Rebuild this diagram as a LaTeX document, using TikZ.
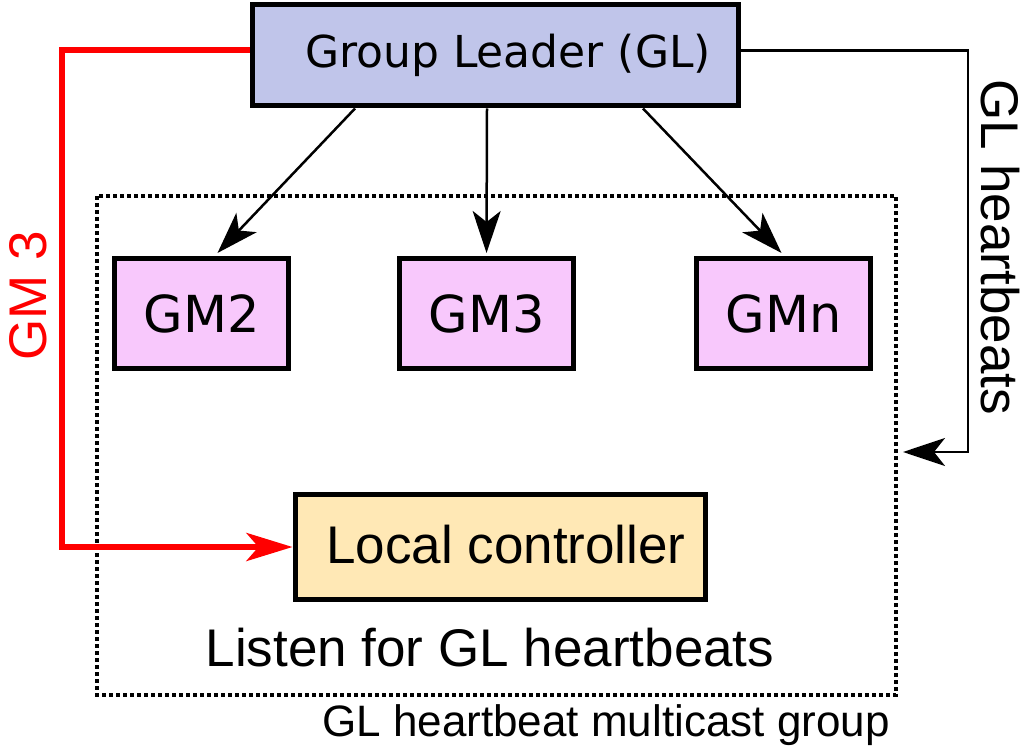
\documentclass[tikz,border=0pt]{standalone}
\usepackage{fontspec}
\setmainfont{Liberation Sans}
\newfontfamily\dejavu{DejaVu Sans}
\usetikzlibrary{arrows.meta,calc}
\definecolor{glfill}{RGB}{192,197,234}
\definecolor{gmfill}{RGB}{248,200,252}
\definecolor{lcfill}{RGB}{255,232,181}
\definecolor{redline}{RGB}{255,0,0}
\tikzset{
  box/.style={draw=black, line width=5pt, inner sep=0pt},
  gmbox/.style={box, fill=gmfill, minimum width=174pt, minimum height=110pt, font=\dejavu\fontsize{51}{56}\selectfont},
  blk/.style={draw=black, line width=2.5pt, -{Stealth[length=42pt,width=28pt,inset=11pt]}},
  redarr/.style={draw=redline, line width=6pt, -{Stealth[length=46pt,width=28pt,inset=12pt]}},
  big/.style={font=\fontsize{53}{60}\selectfont, inner sep=0pt},
}
\begin{document}
\begin{tikzpicture}[x=1pt,y=-1pt]
\useasboundingbox (0,0) rectangle (1022,751);
% dotted group
\draw[line width=4pt, dash pattern=on 4pt off 3pt] (97,196) rectangle (896,695);
% group leader
\node[box, fill=glfill, minimum width=486pt, minimum height=101pt] (gl) at (495,55.5) {};
\node[font=\dejavu\fontsize{44}{50}\selectfont, inner sep=0pt] (gltext) at (508,55) {Group Leader (GL)};
% members
\node[gmbox] (gm2) at (201.5,313.5) {GM2};
\node[gmbox] (gm3) at (486.5,313.5) {GM3};
\node[gmbox] (gmn) at (783.5,313.5) {GMn};
% local controller
\node[box, fill=lcfill, minimum width=410pt, minimum height=105pt] (lc) at (500,547) {};
\node[big] (lctext) at (506,545) {Local controller};
% labels
\node[big] (listen) at (490,648) {Listen for GL heartbeats};
\node[font=\fontsize{44}{50}\selectfont, inner sep=0pt] (mc) at (606,725) {GL heartbeat multicast group};
\node[big, text=redline, rotate=90] (gm3lbl) at (28,296) {GM 3};
\node[big, rotate=-90] (hblbl) at (1000,247) {GL heartbeats};
% arrows from GL
\draw[blk] ($(gl.south)+(-140,0)$) -- ($(gm2.north)+(16,-3)$);
\draw[blk] ($(gl.south)+(-8,0)$) -- ($(gm3.north)+(0,-3)$);
\draw[blk] ($(gl.south)+(148,0)$) -- ($(gmn.north)+(-2,-3)$);
% heartbeat line
\coordinate (hbend) at (903,452);
\draw[blk] ($(gl.east)+(0,-5)$) -| (968,452) -- (hbend);
% red line
\draw[redarr] ($(gl.west)+(0,-5)$) -| (62,547) -- (lc.west);
\end{tikzpicture}
\end{document}
